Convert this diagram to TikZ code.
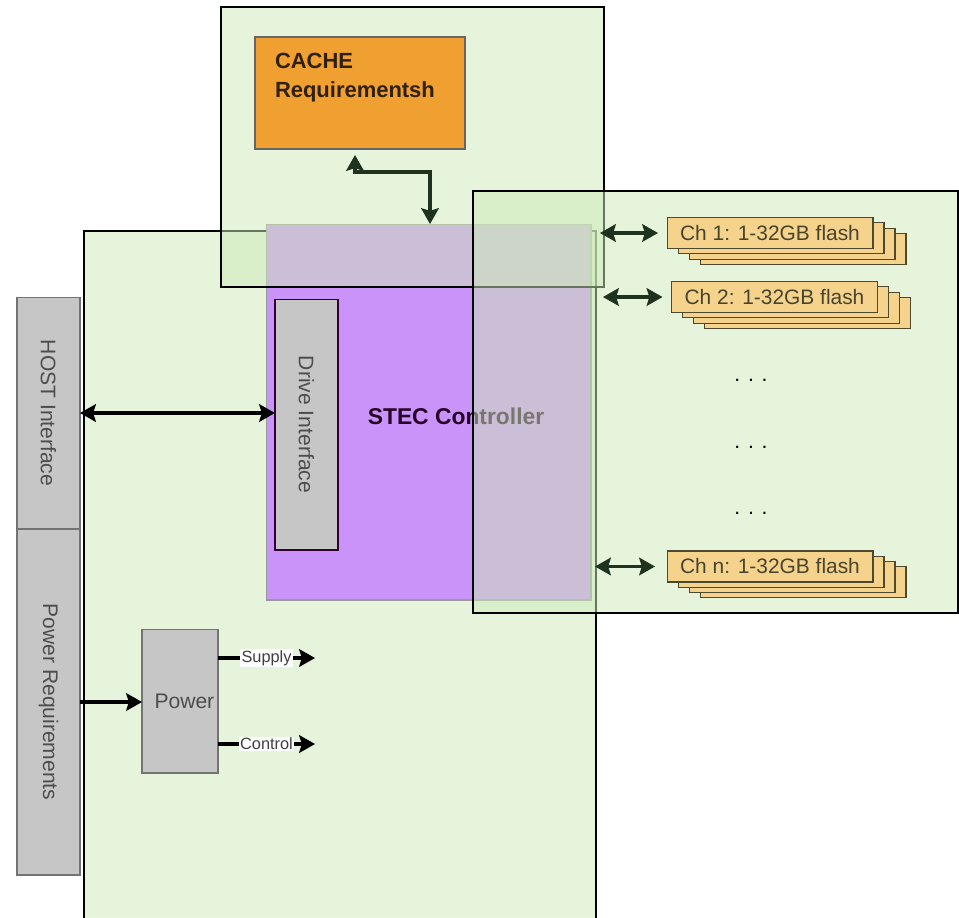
\documentclass[tikz,border=0pt]{standalone}
\usepackage{fontspec}
\setmainfont{Liberation Sans}
\usetikzlibrary{positioning, arrows.meta, calc}
\definecolor{pane}{HTML}{CDEBB8}
\definecolor{ctlfill}{HTML}{C993FA}
\definecolor{cachefill}{HTML}{F0A030}
\definecolor{flashfill}{HTML}{F6D38C}
\definecolor{boxgray}{HTML}{C6C6C6}
\definecolor{ink}{HTML}{1E321E}
\definecolor{txtgray}{HTML}{4D4D4D}

\begin{document}
\begin{tikzpicture}[x=0.02cm, y=-0.02cm, inner sep=0pt, outer sep=0pt,
  pane/.style={draw=black, line width=0.9pt, fill=pane, fill opacity=0.5},
  ctl/.style={draw=gray!80, line width=0.6pt, fill=ctlfill},
  gbox/.style={draw=gray!90!black, line width=0.6pt, fill=boxgray, text=txtgray,
    font=\fontsize{12}{14}\selectfont},
  cbox/.style={draw=gray!80!black, line width=0.6pt, fill=cachefill},
  fbox/.style={draw=black!60!olive, line width=0.6pt, fill=flashfill, text=black!65!olive,
    minimum width=4.12cm, minimum height=0.62cm, font=\fontsize{11.9}{14}\selectfont},
  tag/.style={fill=white, text=black!75, inner sep=0.6pt, font=\fontsize{9.3}{11}\selectfont},
  arr/.style={-{Stealth[length=9pt, width=10pt, inset=1.5pt]}, line width=1.8pt, black},
  darr/.style={{Stealth[length=9pt, width=10pt, inset=1.5pt]}-{Stealth[length=9pt, width=10pt, inset=1.5pt]},
    line width=1.8pt, black},
  farr/.style={darr, ink}
]
  \path[fill=white] (0,0) rectangle (959,917);
  \useasboundingbox (0,0) rectangle (959,917);

  % host side panel and controller
  \node[pane, minimum width=10.24cm, minimum height=13.88cm] (hostpane) at (340,578) {};
  \node[ctl, minimum width=6.5cm, minimum height=7.52cm] (ctrl) at (428.5,412) {};
  \node[font=\bfseries\fontsize{13}{15}\selectfont, text=black!70!violet] (ctrltxt) at (456,416) {STEC Controller};
  \node[gbox, draw=black!60!violet, minimum width=1.26cm, minimum height=5.02cm] (drive) at (306.5,424.5)
    {\rotatebox{-90}{Drive Interface}};

  % cache and flash panels on top
  \node[pane, minimum width=7.66cm, minimum height=5.6cm] (cachepane) at (412.5,147) {};
  \node[pane, minimum width=9.7cm, minimum height=8.44cm] (flashpane) at (715.5,402) {};

  \node[cbox, minimum width=4.2cm, minimum height=2.24cm] (cache) at (360,93) {};
  \node[anchor=north west, align=left, text=black!75!brown,
    font=\bfseries\fontsize{12.5}{16.4}\selectfont] (cachetxt) at (275,53) {CACHE\\Requirementsh};

  \node[gbox, minimum width=1.26cm, minimum height=4.64cm] (host) at (48.5,413) {\rotatebox{-90}{HOST Interface}};
  \node[gbox, minimum width=1.26cm, minimum height=6.92cm] (powreq) at (48.5,702) {\rotatebox{-90}{Power Requirements}};
  \node[gbox, minimum width=1.52cm, minimum height=2.88cm] (power) at (180,701) {\hspace{5pt}Power};

  \coordinate (supply) at (315,658);
  \coordinate (control) at (315,744);

  % flash channels
  \foreach \nm/\cx/\cy/\txt in {ch1/770/233/{Ch 1: 1-32GB flash},
                                ch2/774.5/297/{Ch 2: 1-32GB flash},
                                chn/770/566.5/{Ch n: 1-32GB flash}} {
    \foreach \k in {3,2,1}
      \node[fbox] (\nm-\k) at ({\cx+\k*11},{\cy+\k*5.3}) {};
    \node[fbox] (\nm) at (\cx,\cy) {\txt};
  }
  \foreach \y [count=\i] in {380,447,513}
    \node[font=\fontsize{12}{14}\selectfont] (dots\i) at (751,\y) {. . .};

  % connectors
  \draw[darr] (host.east) -- (host.east -| drive.west);
  \draw[arr] (powreq.east) -- (powreq.east -| power.west);
  \draw[arr] (power.east |- supply) -- node[tag] {Supply} (supply);
  \draw[arr] (power.east |- control) -- node[tag] {Control} (control);
  \draw[farr] ($(cache.south)+(-5,6)$) |- ($(ctrl.north)+(1.5,-52)$) -- ($(ctrl.north)+(1.5,0)$);

  \foreach \nm/\a/\b in {ch1/9/9, ch2/12/9, chn/4/12}
    \draw[farr] ($(\nm.west -| ctrl.east)+(\a,0)$) -- ($(\nm.west)+(-\b,0)$);
\end{tikzpicture}
\end{document}
